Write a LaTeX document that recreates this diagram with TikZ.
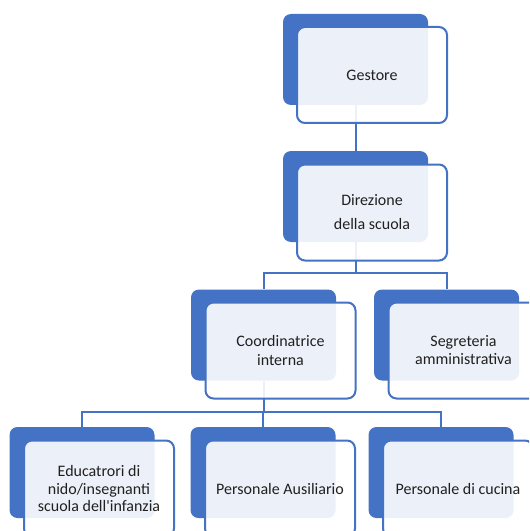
\documentclass[tikz,border=0pt]{standalone}
\usepackage{fontspec}
\setmainfont{Carlito}
\usetikzlibrary{calc}
\definecolor{orgblue}{HTML}{4472C4}
\definecolor{orgtext}{HTML}{202020}

\begin{document}
\begin{tikzpicture}[x=0.75pt,y=-0.75pt,
  back/.style={fill=orgblue, rounded corners=6pt, minimum width=108.75pt, minimum height=68.25pt, inner sep=0pt},
  front/.style={draw=orgblue, line width=1.5pt, fill=white, fill opacity=0.9, text opacity=1, text=orgtext,
    rounded corners=6pt, minimum width=112.5pt, minimum height=72pt, inner sep=0pt, align=center,
    font=\fontsize{12}{13}\selectfont},
  link/.style={draw=orgblue, line width=1.5pt}]
\useasboundingbox (0,0) rectangle (529,531);
\clip (0,0) rectangle (529,531);

\node[back] (gest) at (355.5,59.5) {};
\node[back] (dir) at (355.5,196.5) {};
\node[back] (coord) at (263.5,335) {};
\node[back] (segr) at (446.5,335) {};
\node[back] (educ) at (82,472.5) {};
\node[back] (ausil) at (263,472.5) {};
\node[back] (cuc) at (441,472.5) {};

\draw[link] (gest.south) -- (dir.north);
\draw[link] (dir.south) -- ++(0,31) -| (coord.north);
\draw[link] (dir.south) -- ++(0,31) -| (segr.north);
\draw[link] (coord.south) -- ++(0,31.5) -| (educ.north);
\draw[link] (coord.south) -- ++(0,31.5) -| (ausil.north);
\draw[link] (coord.south) -- ++(0,31.5) -| (cuc.north);

\node[front] (gestT) at ($(gest)+(16.5,15.5)$) {Gestore};
\node[front] (dirT) at ($(dir)+(16.5,16)$) {Direzione\\[5pt]della scuola};
\node[front] (coordT) at ($(coord)+(17,15.5)$) {Coordinatrice\\[0.5pt]interna};
\node[front] (segrT) at ($(segr)+(17,15.5)$) {Segreteria\\[0.5pt]amministrativa};
\node[front] (educT) at ($(educ)+(17,16)$) {Educatrori di\\nido/insegnanti\\scuola dell\textquotesingle infanzia};
\node[front] (ausilT) at ($(ausil)+(17,16)$) {Personale Ausiliario};
\node[front] (cucT) at ($(cuc)+(17,16)$) {Personale di cucina};
\end{tikzpicture}
\end{document}
